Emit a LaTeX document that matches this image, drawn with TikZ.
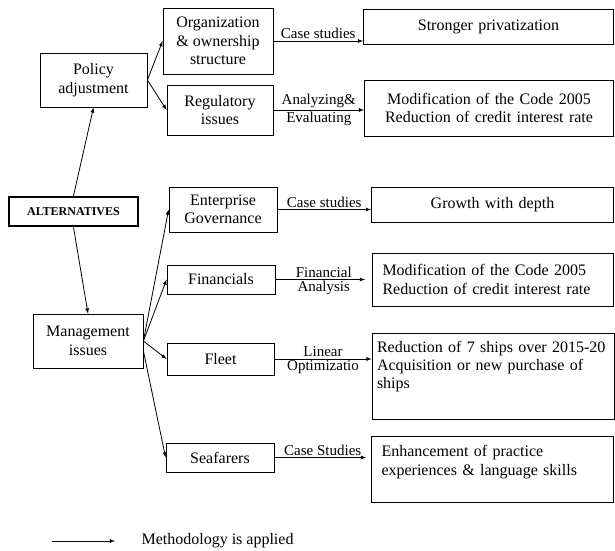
\documentclass[tikz,border=0pt]{standalone}
\usepackage{fontspec}
\setmainfont{Liberation Serif}
\usetikzlibrary{arrows,positioning}

\begin{document}
\begin{tikzpicture}[x=1pt,y=-1pt,
    box/.style={draw,line width=0.8pt,align=center,inner sep=1pt,
                font=\fontsize{16}{18.4}\selectfont},
    resbox/.style={draw,line width=0.8pt,align=center,inner xsep=10pt,inner ysep=2pt,
                font=\fontsize{16}{18.4}\selectfont},
    conn/.style={-latex,line width=0.8pt},
    meth/.style={font=\fontsize{15}{16}\selectfont,inner sep=1.5pt}]
    \useasboundingbox (0,0) rectangle (615,550);   % Page size

    % Root
    \node[draw,line width=2.5pt,minimum width=129pt,minimum height=29pt,
          font=\fontsize{12}{14}\selectfont\bfseries] (alt) at (73.5,211.5) {ALTERNATIVES};

    % Policy branch
    \node[box,minimum width=107pt,minimum height=54pt] (pol) at (93.5,80) {Policy\\adjustment};
    \node[box,minimum width=110pt,minimum height=66pt] (org) at (218,41) {Organization\\\& ownership\\structure};
    \node[box,minimum width=106pt,minimum height=50pt] (reg) at (220,110) {Regulatory\\issues};

    % Management branch
    \node[box,minimum width=110pt,minimum height=54pt] (mgmt) at (88,341) {Management\\issues};
    \node[box,minimum width=108pt,minimum height=45pt] (ent) at (223,209.5) {Enterprise\\Governance};
    \node[box,minimum width=108pt,minimum height=29pt] (fin) at (221,279.5) {Financials};
    \node[box,minimum width=107pt,minimum height=32pt] (fleet) at (220.5,359) {Fleet};
    \node[box,minimum width=108pt,minimum height=29pt] (sea) at (220,457.5) {Seafarers};

    % Results
    \node[resbox,text width=230pt,minimum height=35pt] (strong) at (488.5,26.5) {Stronger privatization};
    \node[resbox,text width=229pt,minimum height=56pt] (mod1) at (489,108) {Modification of the Code 2005\\Reduction of credit interest rate};
    \node[resbox,text width=222pt,minimum height=35pt] (grow) at (492.5,204.5) {Growth with depth};
    \node[resbox,align=left,text width=221pt,minimum height=53pt] (mod2) at (493,279.5) {Modification of the Code 2005\\Reduction of credit interest rate};
    \node[resbox,align=left,inner xsep=5pt,text width=232pt,minimum height=86pt,text depth=59pt] (ships) at (493,376) {Reduction of 7 ships over 2015-20\\Acquisition or new purchase of\\ships};
    \node[resbox,align=left,text width=222pt,minimum height=66pt,text depth=36pt] (enh) at (492.5,469) {Enhancement of practice\\experiences \& language skills};

    % Tree arrows
    \draw[conn] (alt.north) -- (pol.south);
    \draw[conn] (alt.south) -- (mgmt.north);
    \draw[conn] (pol.east) -- (org.west);
    \draw[conn] (pol.east) -- (reg.west);
    \draw[conn] (mgmt.east) -- (ent.west);
    \draw[conn] (mgmt.east) -- (fin.west);
    \draw[conn] (mgmt.east) -- (fleet.west);
    \draw[conn] ([yshift=-10pt]mgmt.east) -- (sea.west);

    % Methodology arrows
    \draw[conn] (org.east) -- (org.east -| strong.west) node[meth,midway,above] {Case studies};
    \draw[conn] (reg.east) -- (reg.east -| mod1.west)
        node[meth,midway,above] {Analyzing\&} node[meth,midway,below] {Evaluating};
    \draw[conn] (ent.east) -- (ent.east -| grow.west) node[meth,midway,above] {Case studies};
    \draw[conn,shorten >=7pt] (fin.east) -- (fin.east -| mod2.west)
        node[meth,midway,above] {Financial} node[meth,midway,below] {Analysis};
    \draw[conn] (fleet.east) -- (fleet.east -| ships.west)
        node[meth,midway,above] {Linear} node[meth,midway,below] {Optimizatio};
    \draw[conn,shorten >=5pt] (sea.east) -- (sea.east -| enh.west) node[meth,midway,above] {Case Studies};

    % Legend
    \coordinate (lg1) at (52,541);
    \coordinate (lg2) at (115,541);
    \draw[conn] (lg1) -- (lg2);
    \node[anchor=west,font=\fontsize{16}{18.4}\selectfont] (lgtext) at (138,541) {Methodology is applied};
\end{tikzpicture}
\end{document}
